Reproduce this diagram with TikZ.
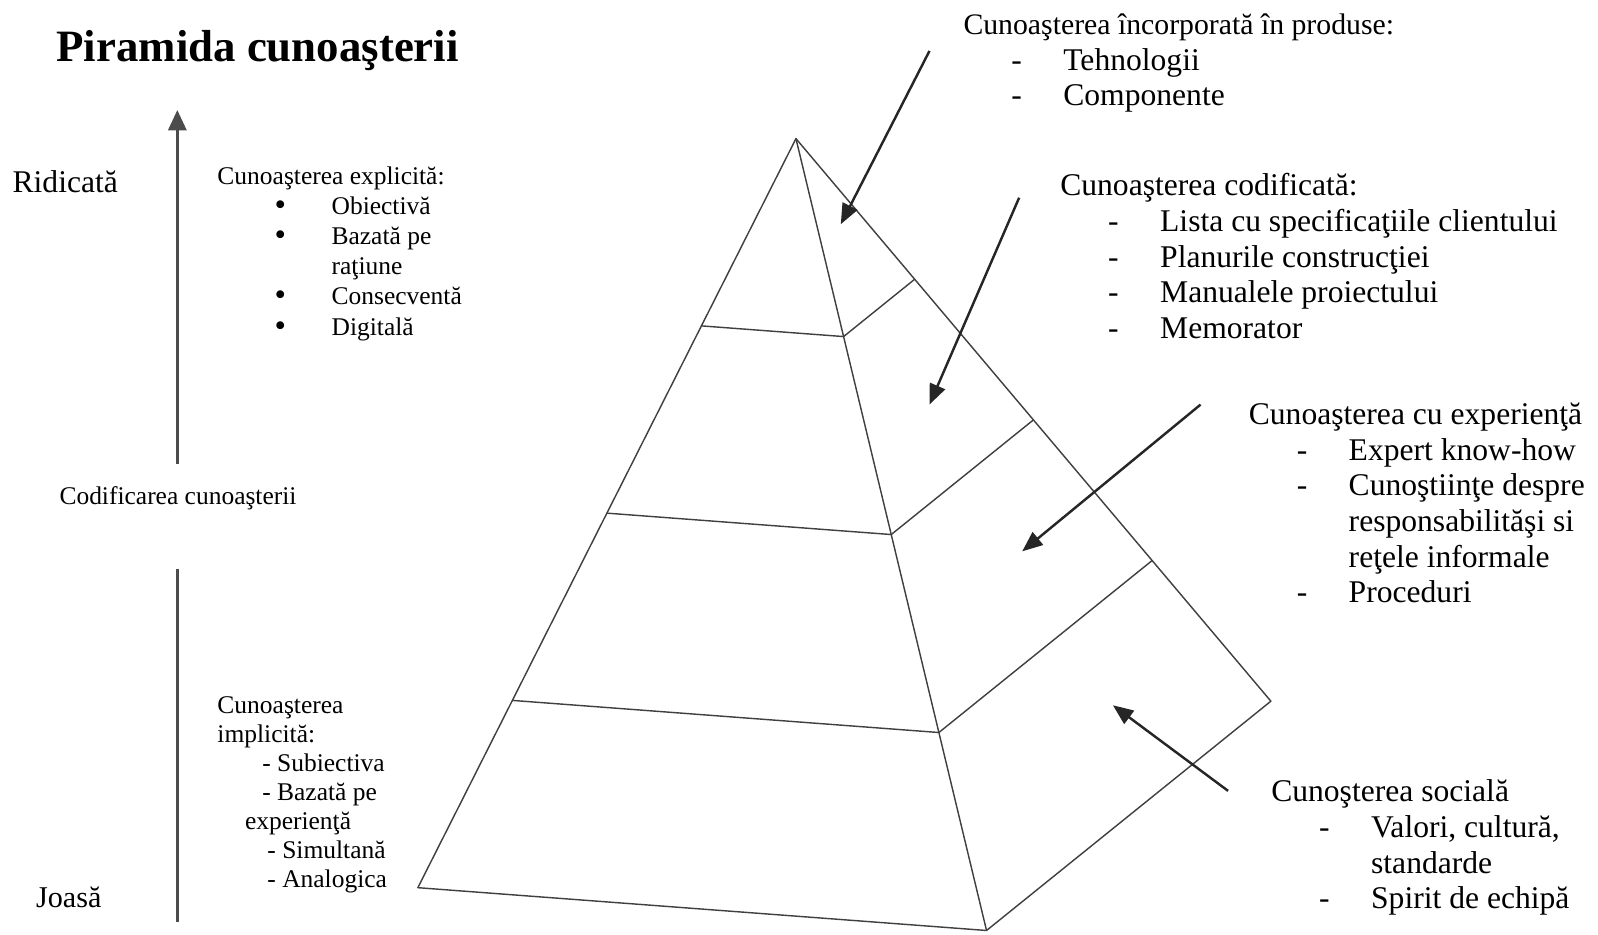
\documentclass[tikz,border=0pt]{standalone}
\usepackage{fontspec}
\setmainfont{Liberation Serif}
\usetikzlibrary{arrows.meta,calc}

\newcommand{\dashitem}[1]{\hspace*{23.5pt}\makebox[25.5pt][l]{-}#1}
\newcommand{\dashcont}[1]{\hspace*{49pt}#1}
\newcommand{\bulitem}[1]{\hspace*{28pt}\makebox[28pt][l]{\raisebox{-0.5pt}{\fontsize{16}{14.8}\selectfont\textbullet}}#1}

\tikzset{
  bigtext/.style={inner sep=0pt, align=left, font=\fontsize{15.5}{17.5}\selectfont},
  smalltext/.style={inner sep=0pt, align=left, font=\fontsize{12.5}{14.8}\selectfont},
  pyr/.style={draw=black!75, line width=0.7pt, line join=round},
  pointer/.style={-{Triangle[length=10pt,width=8pt]}, line width=1.2pt, black!85},
  axisline/.style={line width=1.2pt, black!70},
}

\begin{document}
\begin{tikzpicture}[x=0.5pt, y=-0.5pt]
\useasboundingbox (0,0) rectangle (1568,917);

\node[anchor=west, inner sep=0pt, font=\fontsize{22}{26}\selectfont\bfseries] (title) at (55,50) {Piramida cunoaşterii};

\node[bigtext, anchor=west] (high) at (12,178) {Ridicată};
\node[bigtext, anchor=west, font=\fontsize{14.8}{17.5}\selectfont] (low) at (35,880) {Joasă};
\node[smalltext, anchor=west] (codif) at (58,489) {Codificarea cunoaşterii};

\coordinate (uptop) at (174,108);
\coordinate (upbot) at (174,455);
\coordinate (lowtop) at (174,558);
\coordinate (lowbot) at (174,905);
\path[axisline, -{Triangle[length=10pt,width=9pt]}] (upbot) edge (uptop);
\path[axisline] (lowtop) edge (lowbot);

\node[smalltext, anchor=north west] (explicit) at (213,163) {Cunoaşterea explicită:\\
  \bulitem{Obiectivă}\\ \bulitem{Bazată pe}\\ \hspace*{56pt}raţiune\\
  \bulitem{Consecventă}\\ \bulitem{Digitală}};
\node[smalltext, anchor=north west, font=\fontsize{12.5}{14.2}\selectfont] (implicit) at (213,683) {Cunoaşterea\\ implicită:\\
  \hspace*{22pt}- Subiectiva\\ \hspace*{22pt}- Bazată pe\\ \hspace*{13.5pt}experienţă\\
  \hspace*{24.5pt}- Simultană\\ \hspace*{24.5pt}- Analogica};

\coordinate (apex) at (781,136);
\coordinate (bl) at (410,871);
\coordinate (bf) at (968,913);
\coordinate (br) at (1247,688);
\draw[pyr] (bl) -- (apex) -- (br) -- (bf) -- cycle;
\draw[pyr] (apex) -- (bf);
\foreach \t in {0.25,0.5,0.75}
  \draw[pyr] ($(apex)!\t!(bl)$) -- ($(apex)!\t!(bf)$) -- ($(apex)!\t!(br)$);

\node[bigtext, anchor=north west] (embodied) at (945,13) {\fontsize{14.6}{17.5}\selectfont Cunoaşterea încorporată în produse:\\
  \dashitem{Tehnologii}\\ \dashitem{Componente}};
\node[bigtext, anchor=north west] (codified) at (1040,170) {Cunoaşterea codificată:\\
  \dashitem{Lista cu specificaţiile clientului}\\ \dashitem{Planurile construcţiei}\\
  \dashitem{Manualele proiectului}\\ \dashitem{Memorator}};
\node[bigtext, anchor=north west] (experience) at (1225,395) {Cunoaşterea cu experienţă\\
  \dashitem{Expert know-how}\\ \dashitem{Cunoştiinţe despre}\\
  \dashcont{responsabilităşi si}\\ \dashcont{reţele informale}\\ \dashitem{Proceduri}};
\node[bigtext, anchor=north west] (social) at (1247,765) {Cunoşterea socială\\
  \dashitem{Valori, cultură,}\\ \dashcont{standarde}\\ \dashitem{Spirit de echipă}};

\coordinate (t1) at (912,50);   \coordinate (h1) at (825,220);
\coordinate (t2) at (1000,194); \coordinate (h2) at (912,397);
\coordinate (t3) at (1178,397); \coordinate (h3) at (1003,541);
\coordinate (t4) at (1205,776); \coordinate (h4) at (1092,692);
\path[pointer] (t1) edge (h1);
\path[pointer] (t2) edge (h2);
\path[pointer] (t3) edge (h3);
\path[pointer] (t4) edge (h4);
\end{tikzpicture}
\end{document}
